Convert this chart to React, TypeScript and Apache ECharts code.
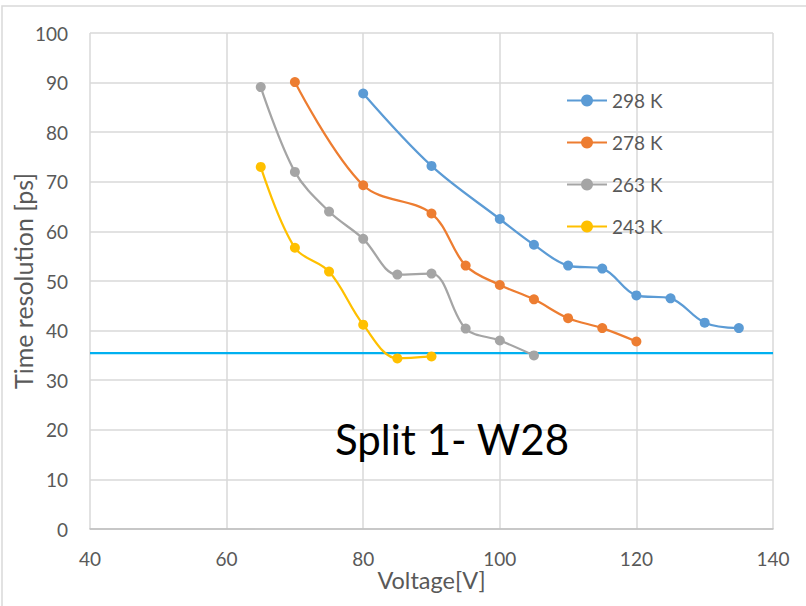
import React, { useEffect, useRef } from "react";
import * as echarts from "echarts";

// Voltage [V] and time resolution [ps] for each temperature
const v298 = [80, 90, 100, 105, 110, 115, 120, 125, 130, 135];
const t298 = [87.8, 73.2, 62.5, 57.3, 53.1, 52.5, 47.1, 46.5, 41.6, 40.5];

const v278 = [70, 80, 90, 95, 100, 105, 110, 115, 120];
const t278 = [90.1, 69.3, 63.6, 53.1, 49.2, 46.3, 42.5, 40.5, 37.8];

const v263 = [65, 70, 75, 80, 85, 90, 95, 100, 105];
const t263 = [89.1, 72.0, 64.0, 58.5, 51.3, 51.5, 40.4, 38.0, 35.0];

const v243 = [65, 70, 75, 80, 85, 90];
const t243 = [73.0, 56.7, 51.9, 41.2, 34.4, 34.8];

const seriesNames = ["298 K", "278 K", "263 K", "243 K"];
const seriesColors = ["#5B9BD5", "#ED7D31", "#A5A5A5", "#FFC000"];
const targetLevel = 35.5;

const FONT = "Lato, 'Open Sans', sans-serif";
const GRID_COLOR = "#d9d9d9";
const TEXT_COLOR = "#595959";

function pairs(xs: number[], ys: number[]) {
  return xs.map((x, i) => [x, ys[i]]);
}

export default function App() {
  const ref = useRef<HTMLDivElement>(null);

  useEffect(() => {
    document.body.style.margin = "0";
    if (!ref.current) return;
    const chart = echarts.init(ref.current, undefined, { renderer: "svg" });
    const data = [
      pairs(v298, t298),
      pairs(v278, t278),
      pairs(v263, t263),
      pairs(v243, t243),
    ];
    const series: any[] = data.map((d, i) => ({
      name: seriesNames[i],
      type: "line",
      data: d,
      smooth: 0.35,
      symbol: "circle",
      symbolSize: 10,
      lineStyle: { width: 2.25, color: seriesColors[i] },
      itemStyle: { color: seriesColors[i] },
      z: 10 - i,
    }));
    series[0].markLine = {
      silent: true,
      symbol: "none",
      label: { show: false },
      lineStyle: { color: "#00B0F0", width: 2.25, type: "solid" },
      data: [{ yAxis: targetLevel }],
    };

    chart.setOption({
      animation: false,
      backgroundColor: "#ffffff",
      textStyle: { fontFamily: FONT },
      graphic: [
        {
          type: "rect",
          shape: { x: 2, y: 6, width: 820, height: 620 },
          style: { fill: "none", stroke: GRID_COLOR, lineWidth: 1.5 },
          silent: true,
          z: -10,
        },
        {
          type: "text",
          left: 335,
          top: 418,
          style: {
            text: "Split 1- W28",
            fontSize: 42,
            fontFamily: FONT,
            fill: "#000000",
          },
          z: 100,
        },
      ],
      legend: {
        data: seriesNames,
        orient: "vertical",
        left: 561,
        top: 86,
        itemGap: 23,
        itemWidth: 40,
        itemHeight: 15,
        textStyle: { fontSize: 19, color: TEXT_COLOR, fontFamily: FONT },
      },
      grid: {
        left: 90,
        top: 33,
        width: 683,
        height: 496,
        containLabel: false,
        outerBoundsMode: "none",
      },
      xAxis: {
        type: "value",
        min: 40,
        max: 140,
        interval: 20,
        name: "Voltage[V]",
        nameLocation: "middle",
        nameGap: 39,
        nameMoveOverlap: false,
        nameTextStyle: { fontSize: 23.5, color: TEXT_COLOR, fontFamily: FONT },
        axisLine: { show: true, lineStyle: { color: "#bfbfbf", width: 1.5 } },
        axisTick: { show: false },
        axisLabel: { fontSize: 19, color: TEXT_COLOR, margin: 20, fontFamily: FONT },
        splitLine: { show: true, lineStyle: { color: GRID_COLOR, width: 1.5 } },
      },
      yAxis: {
        type: "value",
        min: 0,
        max: 100,
        interval: 10,
        name: "Time resolution [ps]",
        nameLocation: "middle",
        nameGap: 55,
        nameMoveOverlap: false,
        nameTextStyle: { fontSize: 25, color: TEXT_COLOR, fontFamily: FONT },
        axisLine: { show: false },
        axisTick: { show: false },
        axisLabel: { fontSize: 19, color: TEXT_COLOR, margin: 22, fontFamily: FONT },
        splitLine: { show: true, lineStyle: { color: GRID_COLOR, width: 1.5 } },
      },
      series,
    });
    return () => chart.dispose();
  }, []);

  return <div ref={ref} style={{ width: 806, height: 606 }} />;
}
